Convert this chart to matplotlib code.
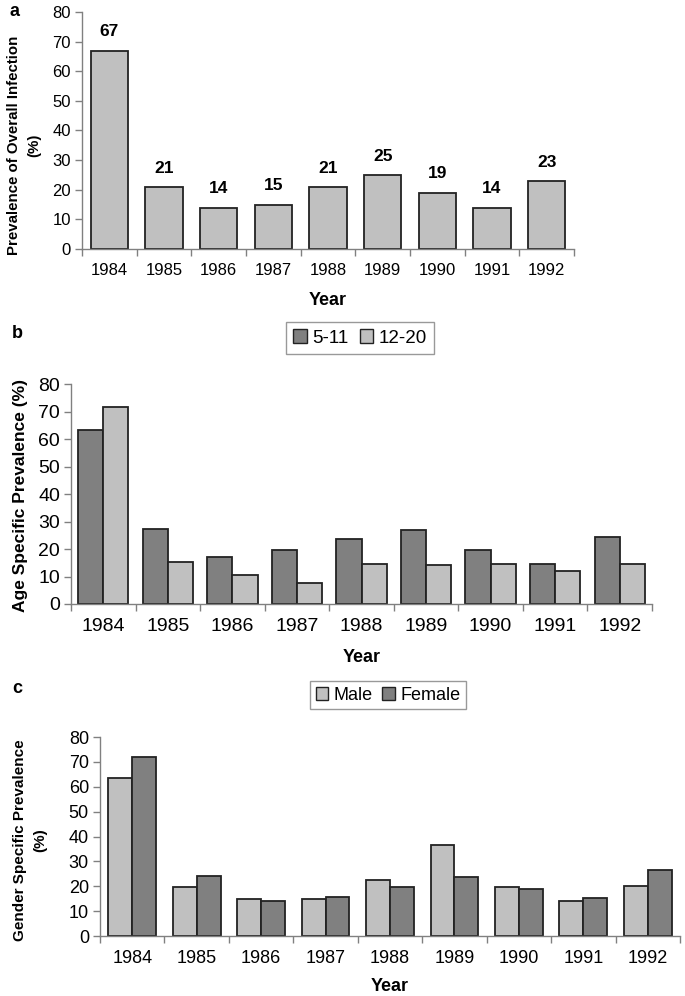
import matplotlib
matplotlib.use("Agg")
import matplotlib.pyplot as plt
import numpy as np
from matplotlib.patches import Patch

years = ["1984", "1985", "1986", "1987", "1988", "1989", "1990", "1991", "1992"]
overall = [67, 21, 14, 15, 21, 25, 19, 14, 23]
age_5_11 = [63.4, 27.3, 17.2, 19.6, 23.5, 26.9, 19.6, 14.7, 24.4]
age_12_20 = [71.7, 15.2, 10.4, 7.8, 14.7, 14.1, 14.7, 11.9, 14.7]
male = [63.5, 19.7, 14.8, 14.8, 22.6, 36.7, 19.7, 13.9, 20.1]
female = [71.9, 24.0, 13.9, 15.8, 19.7, 23.6, 18.7, 15.2, 26.5]
yticks = [0, 10, 20, 30, 40, 50, 60, 70, 80]

LIGHT = "#c0c0c0"
DARK = "#808080"
NARROW = ["Liberation Sans Narrow", "Liberation Sans", "DejaVu Sans"]
REG = ["Liberation Sans", "DejaVu Sans"]

W, H = 685, 996
fig = plt.figure(figsize=(W / 100, H / 100), dpi=100)


def box(l, r, t, b):
    return [l / W, 1 - b / H, (r - l) / W, (b - t) / H]


def ftext(x, y, s, **kw):
    return fig.text(x / W, 1 - y / H, s, **kw)


def style(ax, fam, fs):
    n = len(years)
    x = np.arange(n)
    ax.set_xlim(-0.5, n - 0.5)
    ax.set_ylim(0, 80)
    ax.set_yticks(yticks)
    ax.set_yticklabels([str(v) for v in yticks], family=fam, fontsize=fs)
    ax.set_xticks(x)
    ax.set_xticklabels(years, family=fam, fontsize=fs)
    ax.set_xticks(np.arange(-0.5, n, 1.0), minor=True)
    ax.tick_params(axis="x", which="major", length=0, pad=10)
    ax.tick_params(axis="x", which="minor", length=5, color="#808080", width=1)
    ax.tick_params(axis="y", length=5, color="#808080", width=1, pad=3)
    for s in ["top", "right"]:
        ax.spines[s].set_visible(False)
    for s in ["left", "bottom"]:
        ax.spines[s].set_color("#808080")
        ax.spines[s].set_linewidth(1)
    return x


# Panel a
ax1 = fig.add_axes(box(82, 574, 12, 249))
x = style(ax1, NARROW, 12)
ax1.bar(x, overall, width=0.68, color=LIGHT, edgecolor="#222222", linewidth=1.3)
for xi, v in zip(x, overall):
    ax1.text(xi, v + 3.8, str(v), ha="center", va="bottom", fontsize=12.5, fontweight="bold",
             family=NARROW)
ax1.set_xlabel("Year", family=NARROW, fontsize=13, fontweight="bold", labelpad=10)
ftext(24, 145, "Prevalence of Overall Infection\n(%)", rotation=90, ha="center",
      va="center", multialignment="center", family=REG, fontsize=10.8, fontweight="bold",
      linespacing=1.5)
ftext(9, 12, "a", fontsize=13, fontweight="bold", family=REG, va="center")

# Panel b
ax2 = fig.add_axes(box(71, 652, 384, 604))
x = style(ax2, NARROW, 14)
bw = 0.39
ax2.bar(x - bw / 2, age_5_11, width=bw, color=DARK, edgecolor="#222222", linewidth=1.3)
ax2.bar(x + bw / 2, age_12_20, width=bw, color=LIGHT, edgecolor="#222222", linewidth=1.3)
ax2.set_xlabel("Year", family=REG, fontsize=13, fontweight="bold", labelpad=10)
ftext(21, 496, "Age Specific Prevalence (%)", rotation=90, ha="center", va="center",
      family=REG, fontsize=12.5, fontweight="bold")
ftext(12, 334, "b", fontsize=13, fontweight="bold", family=REG, va="center")
hb = [Patch(facecolor=DARK, edgecolor="#222222", label="5-11"),
      Patch(facecolor=LIGHT, edgecolor="#222222", label="12-20")]
fig.legend(handles=hb, loc="center", bbox_to_anchor=(360 / W, 1 - 338 / H), ncol=2,
           prop={"family": NARROW, "size": 13.5}, frameon=True, fancybox=False,
           edgecolor="#808080", handlelength=0.7, handleheight=0.7, handletextpad=0.3,
           columnspacing=0.6, borderpad=0.4)

# Panel c
ax3 = fig.add_axes(box(100, 680, 737, 936))
x = style(ax3, REG, 13)
bw = 0.37
ax3.bar(x - bw / 2, male, width=bw, color=LIGHT, edgecolor="#222222", linewidth=1.3)
ax3.bar(x + bw / 2, female, width=bw, color=DARK, edgecolor="#222222", linewidth=1.3)
ax3.set_xlabel("Year", family=REG, fontsize=13, fontweight="bold", labelpad=8)
ftext(30, 840, "Gender Specific Prevalence\n(%)", rotation=90, ha="center", va="center",
      multialignment="center", family=REG, fontsize=11, fontweight="bold",
      linespacing=1.5)
ftext(12, 688, "c", fontsize=13, fontweight="bold", family=REG, va="center")
hc = [Patch(facecolor=LIGHT, edgecolor="#222222", label="Male"),
      Patch(facecolor=DARK, edgecolor="#222222", label="Female")]
fig.legend(handles=hc, loc="center", bbox_to_anchor=(388 / W, 1 - 695 / H), ncol=2,
           prop={"family": REG, "size": 13}, frameon=True, fancybox=False,
           edgecolor="#808080", handlelength=0.7, handleheight=0.7, handletextpad=0.3,
           columnspacing=0.5, borderpad=0.3)

fig.savefig("out.png", dpi=100)
